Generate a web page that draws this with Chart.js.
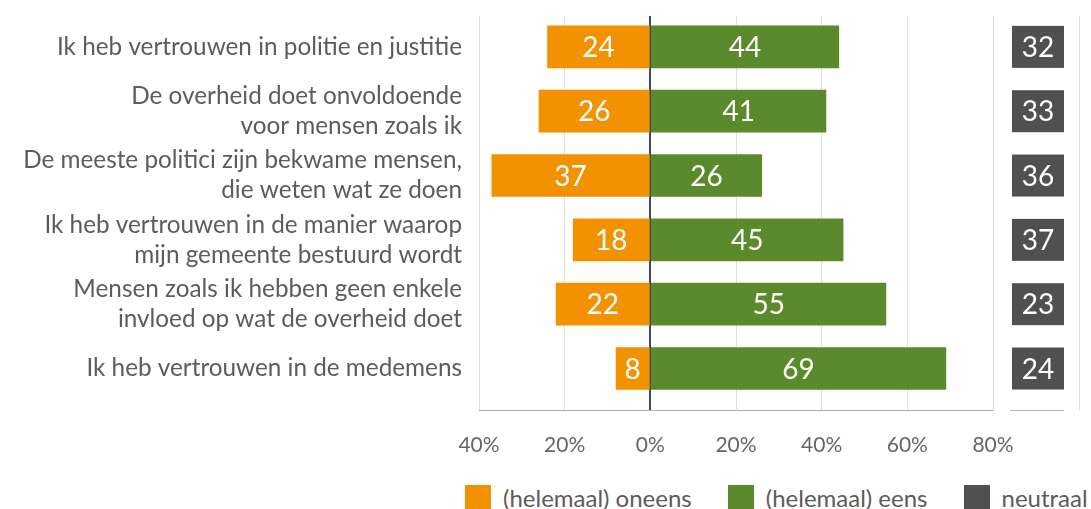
<!DOCTYPE html>
<html>
<head>
<meta charset="utf-8">
<title>Vertrouwen</title>
<script src="https://cdn.jsdelivr.net/npm/chart.js@4.4.1/dist/chart.umd.min.js"></script>
<style>
    html, body { margin: 0; padding: 0; background: #fff; overflow: hidden; }
    #wrap { position: relative; width: 1091px; height: 509px; }
    #legend { position: absolute; left: 465px; top: 485px; display: flex; font-family: Lato, sans-serif; font-size: 24px; color: #5c5c5c; }
    .item { display: flex; align-items: flex-start; margin-right: 36px; white-space: nowrap; }
    .swatch { width: 26px; height: 26px; margin-right: 12px; }
    .item span { line-height: 24px; margin-top: 1px; }
</style>
</head>
<body>
<div id="wrap">
    <canvas id="chart" width="1091" height="470"></canvas>
    <div id="legend"></div>
</div>
<script>
const statements = [
    ["Ik heb vertrouwen in politie en justitie"],
    ["De overheid doet onvoldoende", "voor mensen zoals ik"],
    ["De meeste politici zijn bekwame mensen,", "die weten wat ze doen"],
    ["Ik heb vertrouwen in de manier waarop", "mijn gemeente bestuurd wordt"],
    ["Mensen zoals ik hebben geen enkele", "invloed op wat de overheid doet"],
    ["Ik heb vertrouwen in de medemens"]
];
const oneens = [24, 26, 37, 18, 22, 8];
const eens = [44, 41, 26, 45, 55, 69];
const neutraal = [32, 33, 36, 37, 23, 24];
const xMin = -40;
const xMax = 80;
const xStep = 20;
const seriesNames = ["(helemaal) oneens", "(helemaal) eens", "neutraal"];
const colors = ["#f39200", "#5b8a2d", "#505050"];

const FONT = "Lato, 'Open Sans', sans-serif";

// white numbers in the middle of every bar
const barLabels = {
    id: "barLabels",
    afterDatasetsDraw(chart) {
        const ctx = chart.ctx;
        ctx.save();
        ctx.font = "28px " + FONT;
        ctx.fillStyle = "#fff";
        ctx.textAlign = "center";
        ctx.textBaseline = "middle";
        chart.data.datasets.forEach((ds, d) => {
            chart.getDatasetMeta(d).data.forEach((bar, i) => {
                const p = bar.getProps(["x", "y", "base"], true);
                ctx.fillText(String(Math.abs(ds.data[i].x)), (p.x + p.base) / 2, p.y + 1);
            });
        });
        ctx.restore();
    }
};

// neutral column to the right of the plot
const neutralColumn = {
    id: "neutralColumn",
    afterDraw(chart) {
        const ctx = chart.ctx;
        const area = chart.chartArea;
        const yScale = chart.scales.y;
        const left = area.right + 19;
        const w = 52;
        ctx.save();
        ctx.strokeStyle = "#dedede";
        ctx.lineWidth = 1;
        ctx.beginPath();
        ctx.moveTo(area.right + 86.5, area.top);
        ctx.lineTo(area.right + 86.5, area.bottom);
        ctx.stroke();
        ctx.strokeStyle = "#b5b5b5";
        ctx.beginPath();
        ctx.moveTo(left - 2, area.bottom + 0.5);
        ctx.lineTo(left + w, area.bottom + 0.5);
        ctx.stroke();
        ctx.font = "28px " + FONT;
        ctx.textAlign = "center";
        ctx.textBaseline = "middle";
        neutraal.forEach((v, i) => {
            const y = yScale.getPixelForValue(i);
            ctx.fillStyle = colors[2];
            ctx.fillRect(left, y - 21, w, 42);
            ctx.fillStyle = "#fff";
            ctx.fillText(String(v), left + w / 2, y + 1);
        });
        ctx.restore();
    }
};

function buildLegend() {
    const legend = document.getElementById("legend");
    seriesNames.forEach((name, i) => {
        const item = document.createElement("div");
        item.className = "item";
        const sw = document.createElement("div");
        sw.className = "swatch";
        sw.style.background = colors[i];
        const txt = document.createElement("span");
        txt.innerText = name;
        item.appendChild(sw);
        item.appendChild(txt);
        legend.appendChild(item);
    });
}

function createChart() {
    const canvas = document.getElementById("chart");
    new Chart(canvas, {
        type: "bar",
        data: {
            datasets: [
                {
                    label: seriesNames[0],
                    data: oneens.map((v, i) => ({ x: -v, y: i })),
                    backgroundColor: colors[0]
                },
                {
                    label: seriesNames[1],
                    data: eens.map((v, i) => ({ x: v, y: i })),
                    backgroundColor: colors[1]
                }
            ]
        },
        options: {
            indexAxis: "y",
            responsive: false,
            animation: false,
            barThickness: 42,
            layout: { padding: { top: 16, right: 98, left: 0, bottom: 0 } },
            plugins: { legend: { display: false }, tooltip: { enabled: false } },
            scales: {
                x: {
                    type: "linear",
                    stacked: true,
                    min: xMin,
                    max: xMax,
                    ticks: {
                        stepSize: xStep,
                        padding: 23,
                        color: "#666",
                        font: { family: FONT, size: 21 },
                        callback: v => Math.abs(v) + "%"
                    },
                    grid: {
                        drawTicks: false,
                        color: c => c.tick && c.tick.value === 0 ? "#3e4b57" : "#dcdcdc",
                        lineWidth: c => c.tick && c.tick.value === 0 ? 2 : 1
                    },
                    border: { display: true, color: "#b0b0b0" },
                    afterFit: s => { s.height = 60; }
                },
                y: {
                    type: "linear",
                    stacked: true,
                    reverse: true,
                    offset: false,
                    min: -0.48,
                    max: 5.645,
                    afterBuildTicks: s => { s.ticks = statements.map((_, i) => ({ value: i })); },
                    ticks: {
                        autoSkip: false,
                        padding: 17,
                        color: "#5c5c5c",
                        font: { family: FONT, size: 24.3, lineHeight: 1.23 },
                        callback: v => statements[v]
                    },
                    grid: { display: false, drawTicks: false, offset: false },
                    border: { display: false },
                    afterFit: s => { s.width = 479; s.paddingTop = 0; s.paddingBottom = 0; }
                }
            }
        },
        plugins: [barLabels, neutralColumn]
    });
}

buildLegend();
createChart();
</script>
</body>
</html>
